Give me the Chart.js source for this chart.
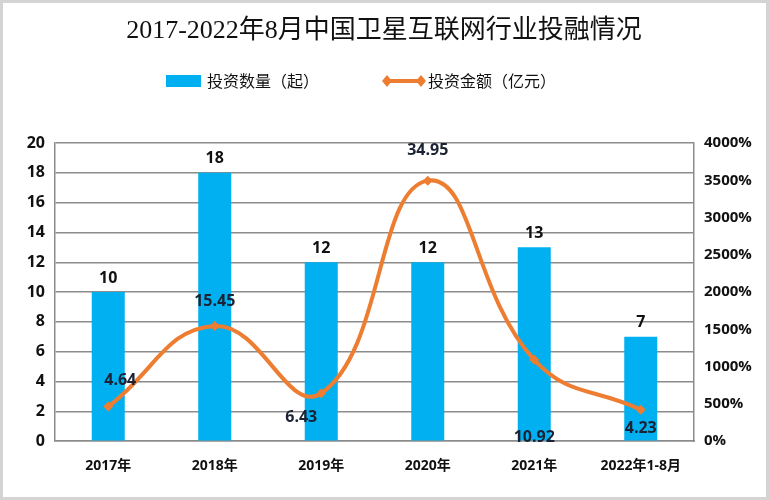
<!DOCTYPE html>
<html>
<head>
<meta charset="utf-8">
<script src="https://cdn.jsdelivr.net/npm/chart.js@4"></script>
<style>
  html, body { margin: 0; padding: 0; background: #fff; }
  #wrap { width: 769px; height: 500px; }
</style>
</head>
<body>
<div id="wrap"><canvas id="myChart" width="769" height="500"></canvas></div>
<script>
// Data
const years = ["2017年", "2018年", "2019年", "2020年", "2021年", "2022年1-8月"];
const dealCount = [10, 18, 12, 12, 13, 7];          // 投资数量（起）
const dealAmount = [4.64, 15.45, 6.43, 34.95, 10.92, 4.23]; // 投资金额（亿元）
const rightTicks = [0, 500, 1000, 1500, 2000, 2500, 3000, 3500, 4000];

const barColor = '#00B0F0';
const lineColor = '#ED7D31';
const sansBold = 'bold 16px "Open Sans", "Noto Sans CJK SC", sans-serif';

// label offsets for the line values (dx, dy from the point)
const amountLabelOffset = [[12, -26], [0, -25], [-20, 24], [0, -30], [0, 78], [0, 19]];

const framePlugin = {
  id: 'frame',
  beforeDraw(chart) {
    const ctx = chart.ctx;
    ctx.save();
    ctx.fillStyle = '#fff';
    ctx.fillRect(0, 0, chart.width, chart.height);
    ctx.strokeStyle = '#d4d4d4';
    ctx.lineWidth = 3;
    ctx.strokeRect(1.5, 1.5, chart.width - 3, chart.height - 3);

    // title
    ctx.fillStyle = '#111';
    ctx.font = '26px "Liberation Serif", "Noto Sans CJK SC", serif';
    ctx.textAlign = 'center';
    ctx.textBaseline = 'middle';
    ctx.fillText('2017-2022年8月中国卫星互联网行业投融情况', 384, 31);

    // legend
    ctx.font = '16px "Noto Sans CJK SC", sans-serif';
    ctx.textAlign = 'left';
    ctx.fillStyle = barColor;
    ctx.fillRect(166, 75, 35, 12);
    ctx.fillStyle = '#111';
    ctx.fillText('投资数量（起）', 207, 81);

    ctx.strokeStyle = lineColor;
    ctx.lineWidth = 4;
    ctx.beginPath();
    ctx.moveTo(385, 81);
    ctx.lineTo(423, 81);
    ctx.stroke();
    ctx.fillStyle = lineColor;
    [387, 421].forEach(x => {
      ctx.beginPath();
      ctx.moveTo(x, 75); ctx.lineTo(x + 5, 81); ctx.lineTo(x, 87); ctx.lineTo(x - 5, 81);
      ctx.closePath();
      ctx.fill();
    });
    ctx.fillStyle = '#111';
    ctx.fillText('投资金额（亿元）', 428, 81);
    ctx.restore();
  },
  afterDatasetsDraw(chart) {
    const ctx = chart.ctx;
    ctx.save();
    ctx.font = sansBold;
    ctx.textAlign = 'center';
    ctx.textBaseline = 'middle';
    ctx.fillStyle = '#111';
    chart.getDatasetMeta(1).data.forEach((el, i) => {
      ctx.fillText(String(dealCount[i]), el.x, el.y - 14);
    });
    ctx.fillStyle = '#1b2233';
    chart.getDatasetMeta(0).data.forEach((el, i) => {
      const o = amountLabelOffset[i];
      ctx.fillText(dealAmount[i].toFixed(2), el.x + o[0], el.y + o[1]);
    });
    ctx.restore();
  }
};

const data = {
  labels: years,
  datasets: [
    {
      type: 'line',
      label: '投资金额（亿元）',
      data: dealAmount.map(v => v * 100),
      yAxisID: 'y1',
      borderColor: lineColor,
      backgroundColor: lineColor,
      borderWidth: 4,
      tension: 0.45,
      pointStyle: 'rectRot',
      pointRadius: 5,
      pointBorderWidth: 0,
      order: 0
    },
    {
      type: 'bar',
      label: '投资数量（起）',
      data: dealCount,
      yAxisID: 'y',
      backgroundColor: barColor,
      barPercentage: 0.31,
      categoryPercentage: 1,
      order: 1
    }
  ]
};

const config = {
  type: 'bar',
  data: data,
  plugins: [framePlugin],
  options: {
    responsive: false,
    animation: false,
    layout: { padding: { top: 143, bottom: 18, left: 10, right: 0 } },
    plugins: {
      legend: { display: false },
      title: { display: false },
      tooltip: { enabled: false }
    },
    scales: {
      x: {
        grid: { display: false },
        border: { display: true, color: '#8c8c8c', width: 1.5 },
        ticks: { color: '#111', font: { family: '"Open Sans", "Noto Sans CJK SC", sans-serif', size: 14, weight: 'bold' }, padding: 8, maxRotation: 0, autoSkip: false }
      },
      y: {
        min: 0, max: 20,
        ticks: { stepSize: 2, color: '#111', font: { family: '"Open Sans", sans-serif', size: 16, weight: 'bold' }, padding: 10 },
        grid: { color: '#8c8c8c', lineWidth: 1.5, drawTicks: false },
        border: { display: true, color: '#8c8c8c', width: 1.5 },
        afterFit(axis) { axis.width = 45; }
      },
      y1: {
        position: 'right',
        min: 0, max: 4000,
        afterBuildTicks(axis) { axis.ticks = rightTicks.map(v => ({ value: v })); },
        ticks: { color: '#111', font: { family: '"Open Sans", sans-serif', size: 15, weight: 'bold' }, padding: 10, callback: v => v + '%' },
        grid: { display: false, drawTicks: false },
        border: { display: true, color: '#8c8c8c', width: 1.5 },
        afterFit(axis) { axis.width = 75; }
      }
    }
  }
};

const ctx = document.getElementById('myChart').getContext('2d');
new Chart(ctx, config);
</script>
</body>
</html>
